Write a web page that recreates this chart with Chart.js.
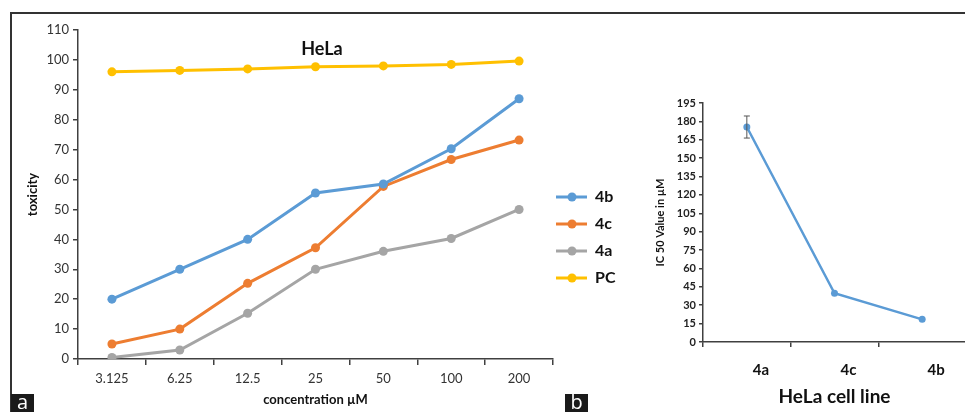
<!DOCTYPE html>
<html lang="en">
<head>
<meta charset="UTF-8">
<title>HeLa toxicity</title>
<script src="https://cdn.jsdelivr.net/npm/chart.js"></script>
<style>
  html, body { margin: 0; padding: 0; background: #fff; overflow: hidden; }
  body { width: 965px; height: 412px; position: relative; font-family: Lato, "Open Sans", sans-serif; }
  .frame-top { position: absolute; left: 11px; top: 12px; width: 960px; height: 2px; background: #333; }
  .frame-left { position: absolute; left: 10px; top: 12px; width: 2px; height: 400px; background: #333; }
  .tag { position: absolute; top: 394px; width: 23px; height: 18px; background: #1a1a1a; color: #fff;
         font: 20px "Open Sans", sans-serif; line-height: 16px; text-align: center; }
  #wrapA { position: absolute; left: 12px; top: 14px; width: 628px; height: 398px; }
  #wrapB { position: absolute; left: 640px; top: 14px; width: 335px; height: 398px; }
</style>
</head>
<body>
<div class="frame-top"></div>
<div class="frame-left"></div>
<div id="wrapA"><canvas id="chartA"></canvas></div>
<div id="wrapB"><canvas id="chartB"></canvas></div>
<div class="tag" style="left:11px">a</div>
<div class="tag" style="left:565px">b</div>

<script>
  // panel a data
  var concentrations = ['3.125', '6.25', '12.5', '25', '50', '100', '200'];
  var tox4b = [20, 30, 40, 55.5, 58.5, 70.3, 87];
  var tox4c = [5, 10, 25.3, 37.2, 57.7, 66.7, 73.2];
  var tox4a = [0.5, 3, 15.3, 30, 36, 40.3, 50];
  var toxPC = [96, 96.5, 97, 97.7, 98, 98.5, 99.6];

  // panel b data
  var compounds = ['4a', '4c', '4b'];
  var ic50 = [175.4, 39.8, 18.5];
  var ic50Err = [9, 0, 0];

  var BLUE = '#5b9bd5', ORANGE = '#ed7d31', GRAY = '#a5a5a5', GOLD = '#ffc000';
  var AXIS = '#404040';

  // custom legend (line + dot) and the "HeLa" title inside the plot
  var extrasA = {
    id: 'extrasA',
    afterDraw: function(chart) {
      var ctx = chart.ctx;
      ctx.save();
      ctx.font = 'bold 18px Lato, sans-serif';
      ctx.fillStyle = '#111';
      ctx.textAlign = 'center';
      ctx.textBaseline = 'middle';
      ctx.fillText('HeLa', 310, 35);

      var x0 = 544, y0 = 183, gap = 27;
      chart.data.datasets.forEach(function(ds, i) {
        var y = y0 + i * gap;
        ctx.strokeStyle = ds.borderColor;
        ctx.lineWidth = 3;
        ctx.beginPath();
        ctx.moveTo(x0, y);
        ctx.lineTo(x0 + 31, y);
        ctx.stroke();
        ctx.fillStyle = ds.borderColor;
        ctx.beginPath();
        ctx.arc(x0 + 16, y, 4.5, 0, Math.PI * 2);
        ctx.fill();
        ctx.fillStyle = '#111';
        ctx.font = 'bold 16px Lato, sans-serif';
        ctx.textAlign = 'left';
        ctx.fillText(ds.label, x0 + 39, y);
      });
      ctx.restore();
    }
  };

  function lineSet(label, data, color) {
    return {
      label: label, data: data,
      borderColor: color, backgroundColor: color,
      borderWidth: 3, pointRadius: 4.5, pointHoverRadius: 4.5,
      pointBorderWidth: 0, tension: 0
    };
  }

  new Chart(document.getElementById('chartA'), {
    type: 'line',
    data: {
      labels: concentrations,
      datasets: [
        lineSet('4b', tox4b, BLUE),
        lineSet('4c', tox4c, ORANGE),
        lineSet('4a', tox4a, GRAY),
        lineSet('PC', toxPC, GOLD)
      ]
    },
    options: {
      responsive: true,
      maintainAspectRatio: false,
      animation: false,
      layout: { padding: { top: 16, right: 87, left: 0, bottom: 0 } },
      plugins: { legend: { display: false }, tooltip: { enabled: false } },
      scales: {
        x: {
          offset: true,
          grid: { display: true, offset: true, drawOnChartArea: false, drawTicks: true, tickLength: 6, color: AXIS, lineWidth: 1.5 },
          border: { display: true, color: AXIS, width: 1.5 },
          ticks: { color: '#333', font: { family: 'Lato, sans-serif', size: 13 }, padding: 6, maxRotation: 0 },
          title: { display: true, text: 'concentration µM', color: '#111', font: { family: 'Lato, sans-serif', size: 13, weight: 'bold' }, padding: { top: 1 } },
          afterFit: function(s) { s.height = 53; }
        },
        y: {
          min: 0, max: 110,
          grid: { display: true, drawOnChartArea: false, drawTicks: true, tickLength: 5, color: AXIS, lineWidth: 1.5 },
          border: { display: true, color: AXIS, width: 1.5 },
          ticks: { stepSize: 10, color: '#333', font: { family: 'Lato, sans-serif', size: 13 }, padding: 4 },
          title: { display: true, text: 'toxicity', color: '#111', font: { family: 'Lato, sans-serif', size: 13, weight: 'bold' }, padding: { top: 13, bottom: 2 } },
          afterFit: function(s) { s.width = 66; }
        }
      }
    },
    plugins: [extrasA]
  });

  // vertical error bars with caps
  var errorBars = {
    id: 'errorBars',
    afterDatasetsDraw: function(chart) {
      var ctx = chart.ctx, meta = chart.getDatasetMeta(0), y = chart.scales.y;
      ctx.save();
      ctx.strokeStyle = '#555';
      ctx.lineWidth = 1;
      ic50.forEach(function(v, i) {
        var e = ic50Err[i];
        if (!e) return;
        var px = meta.data[i].x;
        var top = y.getPixelForValue(v + e), bot = y.getPixelForValue(v - e);
        ctx.beginPath();
        ctx.moveTo(px, top); ctx.lineTo(px, bot);
        ctx.moveTo(px - 3, top); ctx.lineTo(px + 3, top);
        ctx.moveTo(px - 3, bot); ctx.lineTo(px + 3, bot);
        ctx.stroke();
      });
      ctx.restore();
    }
  };

  new Chart(document.getElementById('chartB'), {
    type: 'line',
    data: {
      labels: compounds,
      datasets: [{
        label: 'IC 50', data: ic50,
        borderColor: BLUE, backgroundColor: BLUE,
        borderWidth: 2.5, pointRadius: 3.5, pointHoverRadius: 3.5, pointBorderWidth: 0, tension: 0
      }]
    },
    options: {
      responsive: true,
      maintainAspectRatio: false,
      animation: false,
      layout: { padding: { top: 89, right: 9, left: 0, bottom: 0 } },
      plugins: { legend: { display: false }, tooltip: { enabled: false } },
      scales: {
        x: {
          offset: true,
          grid: { display: true, offset: true, drawOnChartArea: false, drawTicks: true, tickLength: 5, color: AXIS, lineWidth: 1.5 },
          border: { display: true, color: AXIS, width: 1.5 },
          ticks: { color: '#111', font: { family: 'Lato, sans-serif', size: 15, weight: 'bold' }, padding: 14, labelOffset: 14, maxRotation: 0 },
          title: { display: true, text: 'HeLa cell line', color: '#111', font: { family: 'Lato, sans-serif', size: 19, weight: 'bold' }, padding: { top: 0 } },
          afterFit: function(s) { s.height = 70; }
        },
        y: {
          min: 0, max: 195,
          grid: { display: true, drawOnChartArea: false, drawTicks: true, tickLength: 4, color: AXIS, lineWidth: 1.5 },
          border: { display: true, color: AXIS, width: 1.5 },
          ticks: { stepSize: 15, color: '#222', font: { family: 'Lato, sans-serif', size: 11, weight: 'bold' }, padding: 3 },
          title: { display: true, text: 'IC 50 Value in µM', color: '#111', font: { family: 'Lato, sans-serif', size: 11, weight: 'bold' }, padding: { top: 14, bottom: 2 } },
          afterFit: function(s) { s.width = 63; }
        }
      }
    },
    plugins: [errorBars]
  });
</script>
</body>
</html>
